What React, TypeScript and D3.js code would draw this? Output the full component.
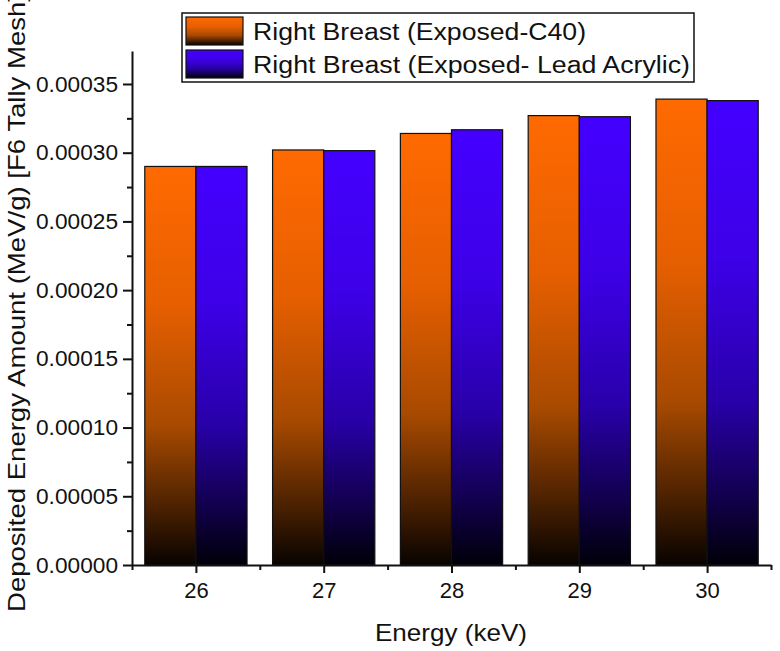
// @ts-nocheck
import * as d3 from "d3";
import React, { useRef, useEffect } from "react";

const energies = [26, 27, 28, 29, 30];
const seriesNames = ["Right Breast (Exposed-C40)", "Right Breast (Exposed- Lead Acrylic)"];
const c40Values = [0.00029, 0.000302, 0.000314, 0.000327, 0.000339];
const leadAcrylicValues = [0.00029, 0.0003015, 0.0003167, 0.0003262, 0.0003379];
const yTicks = [0, 0.00005, 0.0001, 0.00015, 0.0002, 0.00025, 0.0003, 0.00035];

const FONT = "'Liberation Sans', Arial, sans-serif";

export default function App() {
  const svgRef = useRef<SVGSVGElement | null>(null);

  useEffect(() => {
    const width = 780;
    const height = 651;
    const margin = { top: 51, right: 9, bottom: 86, left: 132 };
    const chartW = width - margin.left - margin.right;
    const chartH = height - margin.top - margin.bottom;

    const svg = d3.select(svgRef.current).attr("width", width).attr("height", height);
    svg.selectAll("*").remove();

    // gradients: bright colour on top, fading to black at the base
    const defs = svg.append("defs");
    const grads = [
      { id: "gOrange", stops: [["0%", "#ff6a00"], ["35%", "#e65f00"], ["65%", "#a84a00"], ["85%", "#4e2200"], ["100%", "#080300"]] },
      { id: "gBlue", stops: [["0%", "#4400ff"], ["35%", "#3d00e6"], ["65%", "#2800a8"], ["85%", "#12004e"], ["100%", "#000008"]] },
    ];
    grads.forEach(gd => {
      const lg = defs.append("linearGradient").attr("id", gd.id).attr("x1", 0).attr("y1", 0).attr("x2", 0).attr("y2", 1);
      gd.stops.forEach(([o, c]) => lg.append("stop").attr("offset", o).attr("stop-color", c));
    });

    const g = svg.append("g").attr("transform", `translate(${margin.left},${margin.top})`);

    const x = d3.scaleLinear().domain([25.5, 30.5]).range([0, chartW]);
    const y = d3.scaleLinear().domain([0, 0.000374]).range([chartH, 0]);

    const series = [
      { values: c40Values, fill: "url(#gOrange)", offset: -0.4 },
      { values: leadAcrylicValues, fill: "url(#gBlue)", offset: 0 },
    ];
    const barW = x(26.4) - x(26);

    series.forEach(s => {
      g.selectAll(null)
        .data(energies)
        .enter()
        .append("rect")
        .attr("x", (d, i) => x(d + s.offset))
        .attr("y", (d, i) => y(s.values[i]))
        .attr("width", barW)
        .attr("height", (d, i) => y(0) - y(s.values[i]))
        .attr("fill", s.fill)
        .attr("stroke", "#111")
        .attr("stroke-width", 1.2);
    });

    // y axis
    const yAxis = g.append("g")
      .call(d3.axisLeft(y).tickValues(yTicks).tickFormat(d => d.toFixed(5)).tickSize(9).tickSizeOuter(0));
    yAxis.selectAll(".tick text")
      .attr("font-size", 22).attr("font-family", FONT).attr("fill", "#111").attr("x", -14)
      .attr("textLength", 82).attr("lengthAdjust", "spacingAndGlyphs");
    const yMinor = d3.range(0, 7).map(i => 0.000025 + i * 0.00005);
    g.append("g").call(d3.axisLeft(y).tickValues(yMinor).tickFormat("").tickSize(5).tickSizeOuter(0))
      .select(".domain").remove();

    // x axis
    const xAxis = g.append("g").attr("transform", `translate(0,${chartH})`)
      .call(d3.axisBottom(x).tickValues(energies).tickFormat(d3.format("d")).tickSize(8).tickSizeOuter(0));
    xAxis.selectAll(".tick text").attr("font-size", 22).attr("font-family", FONT).attr("fill", "#111").attr("y", 17);
    g.append("g").attr("transform", `translate(0,${chartH})`)
      .call(d3.axisBottom(x).tickValues([25.5, 26.5, 27.5, 28.5, 29.5, 30.5]).tickFormat("").tickSize(5).tickSizeOuter(0))
      .select(".domain").remove();

    svg.selectAll(".domain, .tick line").attr("stroke", "#111").attr("stroke-width", 2);

    // axis titles
    svg.append("text")
      .attr("x", 451)
      .attr("y", 641)
      .attr("text-anchor", "middle")
      .attr("font-family", FONT)
      .attr("font-size", 24)
      .attr("fill", "#111")
      .attr("textLength", 152)
      .attr("lengthAdjust", "spacingAndGlyphs")
      .text("Energy (keV)");
    svg.append("text")
      .attr("transform", `translate(25,${303}) rotate(-90)`)
      .attr("text-anchor", "middle")
      .attr("font-family", FONT)
      .attr("font-size", 24)
      .attr("fill", "#111")
      .attr("textLength", 618)
      .attr("lengthAdjust", "spacingAndGlyphs")
      .text("Deposited Energy Amount (MeV/g) [F6 Tally Mesh]");

    // legend
    const legendLengths = [333, 437];
    const legend = svg.append("g").attr("transform", "translate(182,13)");
    legend.append("rect").attr("width", 512).attr("height", 69).attr("fill", "#fff").attr("stroke", "#111").attr("stroke-width", 1.5);
    seriesNames.forEach((name, i) => {
      const row = legend.append("g").attr("transform", `translate(4,${4 + i * 33})`);
      row.append("rect").attr("width", 57).attr("height", 28).attr("fill", series[i].fill).attr("stroke", "#111").attr("stroke-width", 1.2);
      row.append("text")
        .attr("x", 67)
        .attr("y", 23)
        .attr("font-family", FONT)
        .attr("font-size", 23)
        .attr("fill", "#111")
        .attr("textLength", legendLengths[i])
        .attr("lengthAdjust", "spacingAndGlyphs")
        .text(name);
    });
  }, []);

  return <svg ref={svgRef} style={{ position: "absolute", left: 0, top: 0, background: "#fff" }} />;
}
